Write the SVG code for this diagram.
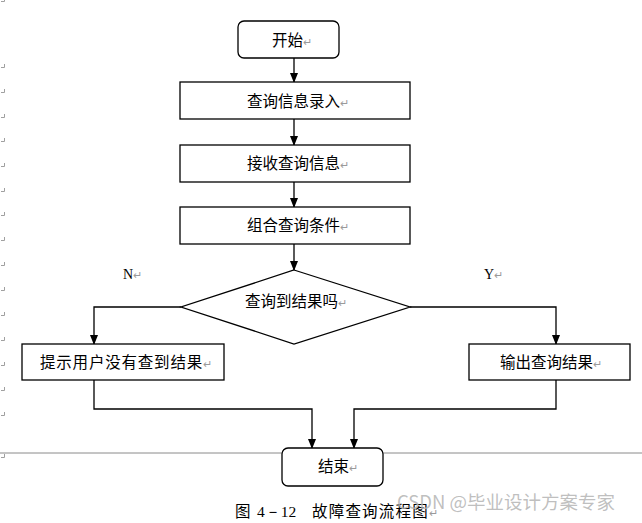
<svg xmlns="http://www.w3.org/2000/svg" width="642" height="523" viewBox="0 0 642 523">
<style>
.box{fill:#fff;stroke:#000;stroke-width:1.3}
.t{font-family:"Noto Sans CJK SC","Noto Sans CJK JP",sans-serif;font-size:15.5px;fill:#000}
.pm{font-size:11px;fill:#9a9a9a}
.lt{font-family:"Liberation Serif",serif;font-size:14px;fill:#000}
.cn{fill:none;stroke:#000;stroke-width:1.3}
.mk{fill:none;stroke:#a0a0a0;stroke-width:1}
</style>
<defs>
<marker id="ah" markerWidth="10" markerHeight="10" refX="9" refY="5" orient="auto" markerUnits="userSpaceOnUse">
<path d="M0,1 L10,5 L0,9 Z" fill="#000"/>
</marker>
</defs>
<rect width="642" height="523" fill="#fff"/>
<g id="margin-marks">
<path class="mk" d="M1,1.5 H4.5 V-2"/>
<path class="mk" d="M1,67.5 H4.5 V64 M1,92.5 H4.5 V89 M1,117.5 H4.5 V114 M1,141.5 H4.5 V138 M1,166.5 H4.5 V163 M1,191.5 H4.5 V188 M1,215.5 H4.5 V212 M1,240.5 H4.5 V237 M1,265.5 H4.5 V262 M1,290.5 H4.5 V287 M1,315.5 H4.5 V312 M1,340.5 H4.5 V337 M1,365.5 H4.5 V362 M1,390.5 H4.5 V387 M1,415.5 H4.5 V412 M1,457.5 H4.5 V454"/>
<line x1="0" y1="453" x2="642" y2="453" stroke="#8a8a8a" stroke-width="1"/>
</g>
<g id="connectors">
<line class="cn" x1="294" y1="58" x2="294" y2="82" marker-end="url(#ah)"/>
<line class="cn" x1="294" y1="119" x2="294" y2="145" marker-end="url(#ah)"/>
<line class="cn" x1="294" y1="182" x2="294" y2="207" marker-end="url(#ah)"/>
<line class="cn" x1="294" y1="244" x2="294" y2="270" marker-end="url(#ah)"/>
<polyline class="cn" points="181,307 94,307 94,344" marker-end="url(#ah)"/>
<polyline class="cn" points="410,307 556,307 556,344" marker-end="url(#ah)"/>
<polyline class="cn" points="94,380 94,409 312,409 312,448" marker-end="url(#ah)"/>
<polyline class="cn" points="556,380 556,409 354,409 354,448" marker-end="url(#ah)"/>
</g>
<g id="start">
<rect class="box" x="238" y="21" width="101" height="37" rx="6"/>
<text class="t" x="272" y="46">开始<tspan class="pm">↵</tspan></text>
</g>
<g id="input">
<rect class="box" x="180" y="82" width="230" height="37"/>
<text class="t" x="247" y="107">查询信息录入<tspan class="pm">↵</tspan></text>
</g>
<g id="receive">
<rect class="box" x="180" y="145" width="230" height="37"/>
<text class="t" x="247" y="169">接收查询信息<tspan class="pm">↵</tspan></text>
</g>
<g id="combine">
<rect class="box" x="180" y="207" width="230" height="37"/>
<text class="t" x="247" y="231">组合查询条件<tspan class="pm">↵</tspan></text>
</g>
<g id="decision">
<polygon class="box" points="294,270 410,307 294,344 181,307"/>
<text class="t" x="245" y="307">查询到结果吗<tspan class="pm">↵</tspan></text>
</g>
<g id="label-n"><text class="lt" x="123" y="279">N<tspan class="pm">↵</tspan></text></g>
<g id="label-y"><text class="lt" x="484" y="279">Y<tspan class="pm">↵</tspan></text></g>
<g id="notfound">
<rect class="box" x="22" y="344" width="202" height="36"/>
<text class="t" x="40" y="368" letter-spacing="0.8">提示用户没有查到结果<tspan class="pm" letter-spacing="0">↵</tspan></text>
</g>
<g id="output">
<rect class="box" x="469" y="344" width="161" height="36"/>
<text class="t" x="500" y="368">输出查询结果<tspan class="pm">↵</tspan></text>
</g>
<g id="end">
<rect class="box" x="282" y="448" width="101" height="38" rx="6"/>
<text class="t" x="318" y="472">结束<tspan class="pm">↵</tspan></text>
</g>
<g id="caption">
<text class="t" x="235" y="517" font-size="15.5">图<tspan font-family="Liberation Serif,serif" x="257">4－12</tspan><tspan x="312" letter-spacing="1.2">故障查询流程图</tspan><tspan class="pm">↵</tspan></text>
</g>
<g id="watermark">
<text x="397" y="509" font-family="Noto Sans CJK SC,sans-serif" font-size="18.5" fill="#b4b4b4" fill-opacity="0.85">CSDN @毕业设计方案专家</text>
</g>
</svg>
